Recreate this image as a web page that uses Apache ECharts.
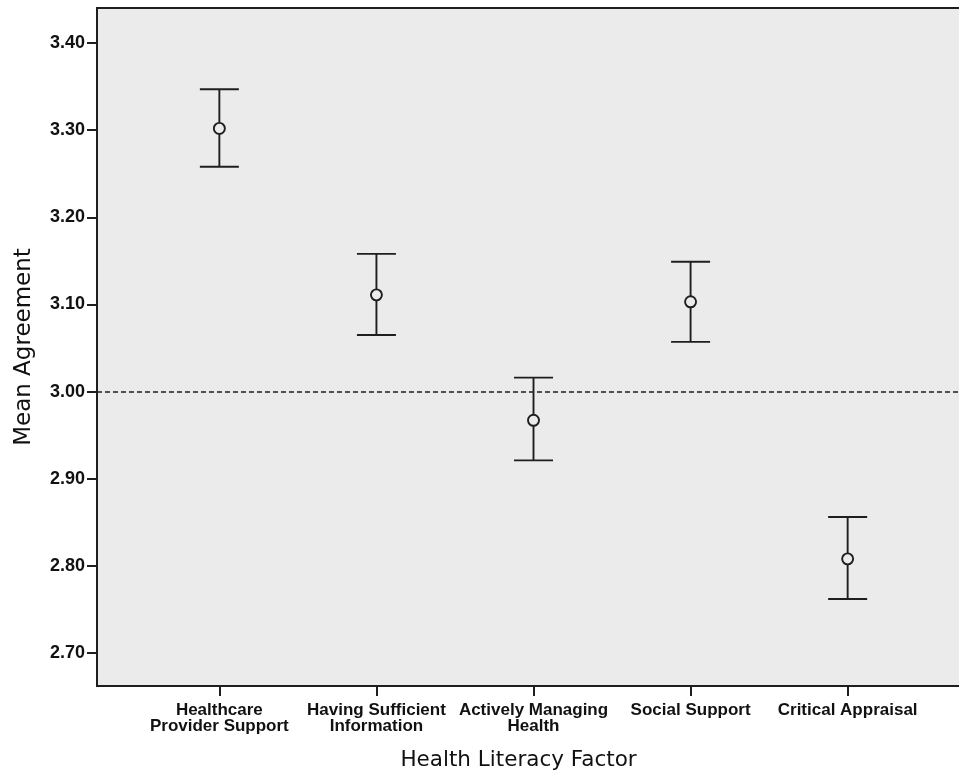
<!DOCTYPE html>
<html>
<head>
<meta charset="utf-8">
<script src="https://cdn.jsdelivr.net/npm/echarts@6/dist/echarts.min.js"></script>
<style>
  html, body { margin: 0; padding: 0; background: #ffffff; }
  #chart { width: 959px; height: 773px; }
</style>
</head>
<body>
<div id="chart"></div>
<script>
const categories = [
  'Healthcare\nProvider Support',
  'Having Sufficient\nInformation',
  'Actively Managing\nHealth',
  'Social Support',
  'Critical Appraisal'
];
const means = [3.302, 3.111, 2.967, 3.103, 2.808];
const lowerCI = [3.258, 3.065, 2.921, 3.057, 2.762];
const upperCI = [3.347, 3.158, 3.016, 3.149, 2.856];
const yTicks = [2.70, 2.80, 2.90, 3.00, 3.10, 3.20, 3.30, 3.40];
const referenceValue = 3.00;

const positions = categories.map((c, i) => i + 1);
const seriesData = positions.map((p, i) => [p, means[i], lowerCI[i], upperCI[i]]);

const chart = echarts.init(document.getElementById('chart'), null, { renderer: 'canvas' });

const ink = '#1e1e1e';

chart.setOption({
  backgroundColor: '#ffffff',
  animation: false,
  grid: {
    left: 97, top: 8, right: -3, bottom: 87,
    outerBoundsMode: 'none',
    containLabel: false,
    show: true,
    backgroundColor: '#ebebeb',
    borderColor: ink,
    borderWidth: 2
  },
  xAxis: {
    type: 'value',
    min: 0.221,
    max: 5.728,
    name: 'Health Literacy Factor',
    nameLocation: 'middle',
    nameGap: 63,
    nameTextStyle: {
      fontFamily: 'DejaVu Sans', fontSize: 21.5, color: '#111', padding: [0, 22, 0, 0]
    },
    axisLine: { show: true, lineStyle: { color: ink, width: 2 } },
    axisTick: { show: true, length: 10, lineStyle: { color: ink, width: 2 }, customValues: positions },
    axisLabel: {
      customValues: positions,
      margin: 16,
      fontFamily: 'Liberation Sans, Arial, sans-serif',
      fontWeight: 'bold',
      fontSize: 17,
      lineHeight: 16,
      color: '#111',
      formatter: v => categories[Math.round(v) - 1] || ''
    },
    splitLine: { show: false }
  },
  yAxis: {
    type: 'value',
    min: 2.6621,
    max: 3.4402,
    name: 'Mean Agreement',
    nameLocation: 'middle',
    nameGap: 61,
    nameRotate: 90,
    nameTextStyle: {
      fontFamily: 'DejaVu Sans', fontSize: 23, color: '#111'
    },
    axisLine: { show: true, lineStyle: { color: ink, width: 2 } },
    axisTick: { show: true, length: 10, lineStyle: { color: ink, width: 2 }, customValues: yTicks },
    axisLabel: {
      customValues: yTicks,
      margin: 12,
      fontFamily: 'Liberation Sans, Arial, sans-serif',
      fontWeight: 'bold',
      fontSize: 18,
      color: '#111',
      formatter: v => v.toFixed(2)
    },
    splitLine: { show: false }
  },
  series: [
    {
      type: 'custom',
      data: seriesData,
      encode: { x: 0, y: [1, 2, 3] },
      clip: false,
      renderItem: function (params, api) {
        const x = api.value(0);
        const m = api.coord([x, api.value(1)]);
        const lo = api.coord([x, api.value(2)]);
        const hi = api.coord([x, api.value(3)]);
        const hw = 19.5;
        const r = 5.5;
        const st = { stroke: ink, lineWidth: 1.9, fill: null };
        return {
          type: 'group',
          children: [
            { type: 'line', shape: { x1: hi[0], y1: hi[1], x2: m[0], y2: m[1] - r }, style: st },
            { type: 'line', shape: { x1: m[0], y1: m[1] + r, x2: lo[0], y2: lo[1] }, style: st },
            { type: 'line', shape: { x1: hi[0] - hw, y1: hi[1], x2: hi[0] + hw, y2: hi[1] }, style: st },
            { type: 'line', shape: { x1: lo[0] - hw, y1: lo[1], x2: lo[0] + hw, y2: lo[1] }, style: st },
            { type: 'circle', shape: { cx: m[0], cy: m[1], r: r }, style: { stroke: ink, lineWidth: 1.9, fill: 'transparent' } }
          ]
        };
      },
      markLine: {
        silent: true,
        symbol: ['none', 'none'],
        label: { show: false },
        lineStyle: { color: ink, width: 1.6, type: [5, 3] },
        data: [{ yAxis: referenceValue }]
      },
      z: 3
    }
  ]
});
</script>
</body>
</html>
